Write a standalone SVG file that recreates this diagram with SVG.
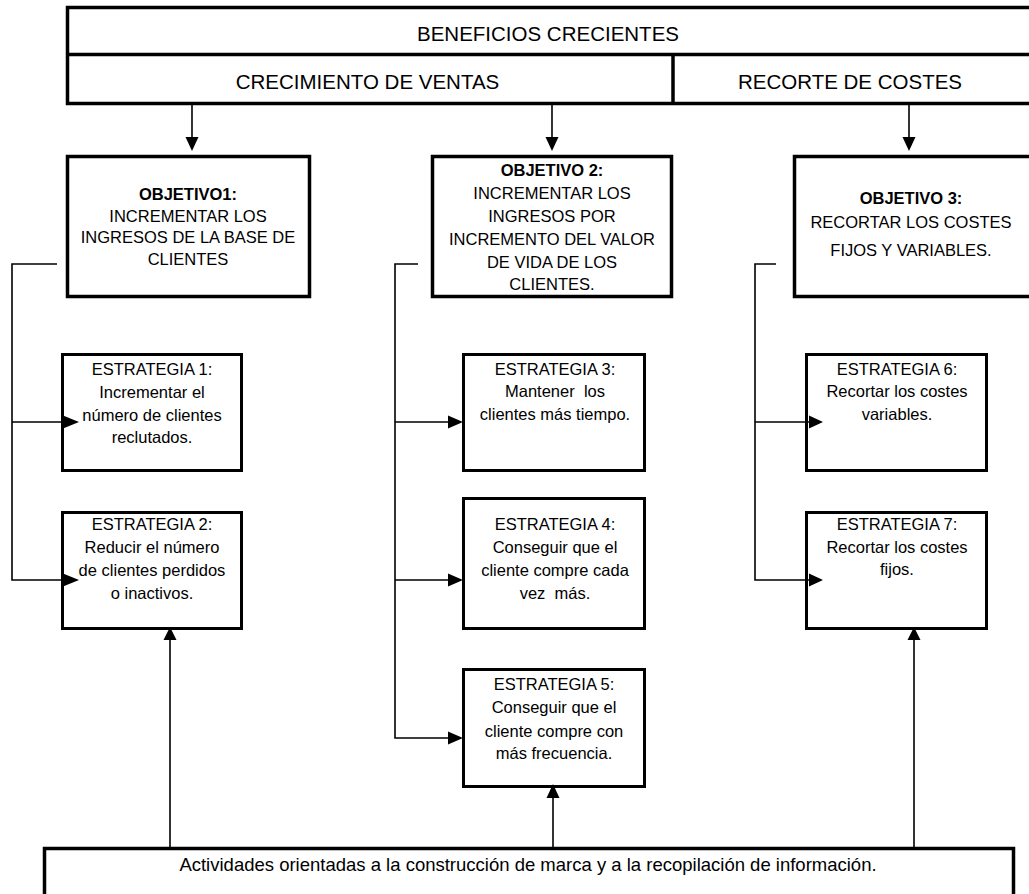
<svg xmlns="http://www.w3.org/2000/svg" width="1029" height="894" viewBox="0 0 1029 894">
  <style>
    .box { fill: #ffffff; stroke: #000000; stroke-width: 3.5; }
    .sbox { fill: #ffffff; stroke: #000000; stroke-width: 3; }
    .wire { fill: none; stroke: #000000; stroke-width: 1.6; }
    .head { fill: #000000; stroke: none; }
    text { font-family: "Liberation Sans", Arial, sans-serif; fill: #000000; text-anchor: middle; }
    .big { font-size: 20.5px; }
    .t { font-size: 16.5px; }
    .base { font-size: 18.5px; }
    .b { font-weight: bold; }
  </style>

  <!-- Header: goal and its two branches -->
  <g id="header">
    <rect class="box" x="67.5" y="7.5" width="1000" height="96"/>
    <line x1="67.5" y1="54.5" x2="1067.5" y2="54.5" stroke="#000" stroke-width="3.5"/>
    <line x1="673" y1="54.5" x2="673" y2="103.5" stroke="#000" stroke-width="3.5"/>
    <text class="big" x="548" y="41">BENEFICIOS CRECIENTES</text>
  </g>
  <g id="crecimiento-ventas">
    <text class="big" x="367.5" y="89">CRECIMIENTO DE VENTAS</text>
  </g>
  <g id="recorte-costes">
    <text class="big" x="850" y="89">RECORTE DE COSTES</text>
  </g>

  <!-- Objectives -->
  <g id="objetivo-1">
    <rect class="box" x="67.5" y="156.5" width="242" height="140"/>
    <text class="t b" x="188" y="200">OBJETIVO1:</text>
    <text class="t" x="188" y="221.5">INCREMENTAR LOS</text>
    <text class="t" x="188" y="243">INGRESOS DE LA BASE DE</text>
    <text class="t" x="188" y="265">CLIENTES</text>
  </g>
  <g id="objetivo-2">
    <rect class="box" x="432.5" y="156.5" width="239" height="140"/>
    <text class="t b" x="552" y="176">OBJETIVO 2:</text>
    <text class="t" x="552" y="199">INCREMENTAR LOS</text>
    <text class="t" x="552" y="222">INGRESOS POR</text>
    <text class="t" x="552" y="245">INCREMENTO DEL VALOR</text>
    <text class="t" x="552" y="268">DE VIDA DE LOS</text>
    <text class="t" x="552" y="290">CLIENTES.</text>
  </g>
  <g id="objetivo-3">
    <rect class="box" x="794.5" y="156.5" width="300" height="140"/>
    <text class="t b" x="911" y="204">OBJETIVO 3:</text>
    <text class="t" x="911" y="228">RECORTAR LOS COSTES</text>
    <text class="t" x="911" y="256">FIJOS Y VARIABLES.</text>
  </g>

  <!-- Strategies -->
  <g id="estrategia-1">
    <rect class="sbox" x="62.5" y="354.5" width="179" height="116"/>
    <text class="t" x="152" y="375">ESTRATEGIA 1:</text>
    <text class="t" x="152" y="398">Incrementar el</text>
    <text class="t" x="152" y="421">número de clientes</text>
    <text class="t" x="152" y="443">reclutados.</text>
  </g>
  <g id="estrategia-2">
    <rect class="sbox" x="62.5" y="512.5" width="179" height="116"/>
    <text class="t" x="152" y="530">ESTRATEGIA 2:</text>
    <text class="t" x="152" y="553">Reducir el número</text>
    <text class="t" x="152" y="576">de clientes perdidos</text>
    <text class="t" x="152" y="599">o inactivos.</text>
  </g>
  <g id="estrategia-3">
    <rect class="sbox" x="463.5" y="354.5" width="181" height="116"/>
    <text class="t" x="555" y="375">ESTRATEGIA 3:</text>
    <text class="t" x="555" y="397" xml:space="preserve">Mantener  los</text>
    <text class="t" x="555" y="420">clientes más tiempo.</text>
  </g>
  <g id="estrategia-4">
    <rect class="sbox" x="463.5" y="498.5" width="181" height="130"/>
    <text class="t" x="555" y="530">ESTRATEGIA 4:</text>
    <text class="t" x="555" y="553">Conseguir que el</text>
    <text class="t" x="555" y="576">cliente compre cada</text>
    <text class="t" x="555" y="599" xml:space="preserve">vez  más.</text>
  </g>
  <g id="estrategia-5">
    <rect class="sbox" x="463.5" y="669.5" width="181" height="117"/>
    <text class="t" x="554" y="690">ESTRATEGIA 5:</text>
    <text class="t" x="554" y="713">Conseguir que el</text>
    <text class="t" x="554" y="737">cliente compre con</text>
    <text class="t" x="554" y="759">más frecuencia.</text>
  </g>
  <g id="estrategia-6">
    <rect class="sbox" x="806.5" y="354.5" width="180" height="116"/>
    <text class="t" x="897" y="375">ESTRATEGIA 6:</text>
    <text class="t" x="897" y="397">Recortar los costes</text>
    <text class="t" x="897" y="420">variables.</text>
  </g>
  <g id="estrategia-7">
    <rect class="sbox" x="806.5" y="512.5" width="180" height="116"/>
    <text class="t" x="897" y="530">ESTRATEGIA 7:</text>
    <text class="t" x="897" y="553">Recortar los costes</text>
    <text class="t" x="897" y="575">fijos.</text>
  </g>

  <!-- Foundation activities -->
  <g id="actividades">
    <rect class="box" x="44.5" y="848.5" width="969" height="100"/>
    <text class="base" x="528" y="871">Actividades orientadas a la construcción de marca y a la recopilación de información.</text>
  </g>

  <!-- Connectors -->
  <g id="connectors">
    <!-- header to objectives -->
    <line class="wire" x1="192" y1="105" x2="192" y2="138"/>
    <polygon class="head" points="185.5,137 198.5,137 192,151"/>
    <line class="wire" x1="552" y1="105" x2="552" y2="138"/>
    <polygon class="head" points="545.5,137 558.5,137 552,151"/>
    <line class="wire" x1="909" y1="105" x2="909" y2="138"/>
    <polygon class="head" points="902.5,137 915.5,137 909,151"/>

    <!-- objective 1 to strategies 1-2 -->
    <path class="wire" d="M57,264 H12 V580 H64 M12,422 H64"/>
    <polygon class="head" points="63,415.5 63,428.5 79,422"/>
    <polygon class="head" points="63,573.5 63,586.5 79,580"/>

    <!-- objective 2 to strategies 3-5 -->
    <path class="wire" d="M418,264 H395 V738 H449 M395,422 H449 M395,580 H449"/>
    <polygon class="head" points="448,415.5 448,428.5 463,422"/>
    <polygon class="head" points="448,573.5 448,586.5 463,580"/>
    <polygon class="head" points="448,731.5 448,744.5 463,738"/>

    <!-- objective 3 to strategies 6-7 -->
    <path class="wire" d="M776,264 H755 V580 H810 M755,422 H810"/>
    <polygon class="head" points="809,415.5 809,428.5 823,422"/>
    <polygon class="head" points="809,573.5 809,586.5 823,580"/>

    <!-- activities support the strategies -->
    <line class="wire" x1="170" y1="847" x2="170" y2="639"/>
    <polygon class="head" points="163.5,640 176.5,640 170,627"/>
    <line class="wire" x1="553" y1="847" x2="553" y2="797"/>
    <polygon class="head" points="546.5,798 559.5,798 553,784"/>
    <line class="wire" x1="914" y1="847" x2="914" y2="639"/>
    <polygon class="head" points="907.5,640 920.5,640 914,627"/>
  </g>
</svg>
